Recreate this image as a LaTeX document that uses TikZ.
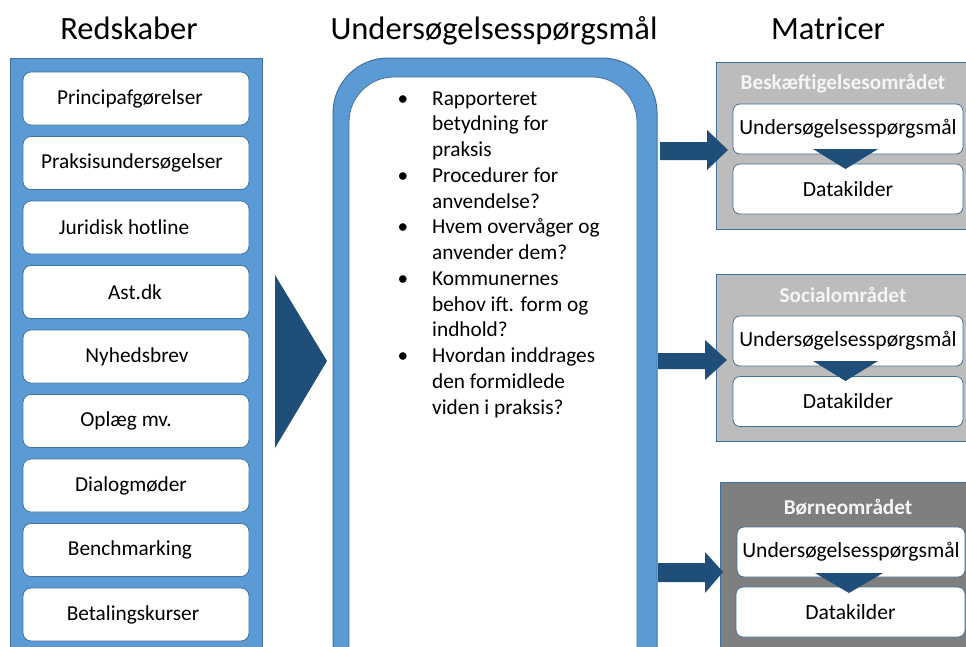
\documentclass[tikz,border=0pt]{standalone}
\usepackage{fontspec}
\setmainfont{Carlito}
\definecolor{bluefill}{HTML}{5B9BD5}
\definecolor{blueline}{HTML}{41719C}
\definecolor{arrowblue}{HTML}{1F4E79}
\definecolor{lightgray}{HTML}{BCBCBC}
\definecolor{darkgray}{HTML}{7F7F7F}
\tikzset{
  heading/.style={anchor=base, font=\fontsize{32.5}{36}\selectfont},
  toolbox/.style={draw=blueline, fill=white, rounded corners=8pt, line width=0.8pt,
    minimum width=226pt, minimum height=53pt, font=\fontsize{21.3}{24}\selectfont},
  bline/.style={anchor=west, inner sep=0pt, text height=15pt, text depth=5pt, font=\fontsize{21.3}{25}\selectfont},
  bullet/.style={inner sep=0pt, text height=15pt, text depth=5pt, font=\fontsize{21.3}{25}\selectfont},
  matbox/.style={draw=blueline, fill=white, rounded corners=7pt, line width=0.8pt,
    minimum width=230pt, minimum height=50pt, inner sep=0pt, font=\fontsize{21.6}{24}\selectfont},
  ptitle/.style={text=white!92!gray, font=\bfseries\fontsize{21.2}{24}\selectfont},
}
\begin{document}
\begin{tikzpicture}[x=1pt, y=-1pt]
\useasboundingbox (0,0) rectangle (966,646);
\fill[white] (0,0) rectangle (966,646);

% headings
\node[heading] (h1) at (129,39) {Redskaber};
\node[heading] (h2) at (494,39) {Undersøgelsesspørgsmål};
\node[heading] (h3) at (828,39) {Matricer};

% left panel
\draw[fill=bluefill, draw=blueline, line width=1pt] (10,58) rectangle (262,700);
\foreach \i/\o/\t in {0/-12/Principafgørelser,1/-8/Praksisundersøgelser,2/-24/Juridisk hotline,3/-2/Ast.dk,4/2/Nyhedsbrev,5/-20/Oplæg mv.,6/-10/Dialogmøder,7/-12/Benchmarking,8/-6/Betalingskurser}{
  \node[toolbox] (t\i) at (136,98.5+64.5*\i) {\hspace*{\o pt}\t};
}

% big triangle
\coordinate (ta) at (275,275);
\coordinate (tb) at (327,361);
\coordinate (tc) at (275,448);
\fill[arrowblue] (ta) -- (tb) -- (tc) -- cycle;

% middle panel
\draw[fill=bluefill, draw=blueline, line width=1pt, rounded corners=55pt] (333,58) rectangle (657,720);
\draw[fill=white, draw=blueline, line width=0.8pt, rounded corners=45pt] (349,77) rectangle (637,720);

% bullet text
\foreach \j/\t in {0/Rapporteret,1/betydning for,2/praksis,3/Procedurer for,4/anvendelse?,5/Hvem overvåger og,6/anvender dem?,7/Kommunernes,8/behov ift. form og,9/indhold?,10/Hvordan inddrages,11/den formidlede,12/viden i praksis?}{
  \node[bline] (l\j) at (432,100+25.75*\j) {\t};
}
\foreach \j in {0,3,5,7,10}{
  \node[bullet] (b\j) at (403,100+25.75*\j) {•};
}

% right panels
\fill[lightgray, draw=blueline, line width=1pt] (716,62) rectangle (980,229);
\node[ptitle] (p1) at (843,84) {Beskæftigelsesområdet};
\node[matbox] (q1) at (848,129) {Undersøgelsesspørgsmål};
\node[matbox] (d1) at (848,189) {Datakilder};
\fill[arrowblue] (813,149) -- (878,149) -- (845.5,169) -- cycle;

\fill[lightgray, draw=blueline, line width=1pt] (716,274) rectangle (980,441);
\node[ptitle] (p2) at (843,295) {Socialområdet};
\node[matbox] (q2) at (848,341) {Undersøgelsesspørgsmål};
\node[matbox] (d2) at (848,401.5) {Datakilder};
\fill[arrowblue] (813,361) -- (878,361) -- (845.5,381) -- cycle;

\fill[darkgray, draw=blueline, line width=1pt] (720,482) rectangle (980,700);
\node[ptitle] (p3) at (848,507) {Børneområdet};
\node[matbox, minimum width=228pt] (q3) at (851,552) {Undersøgelsesspørgsmål};
\node[matbox, minimum width=229pt] (d3) at (850.5,612) {Datakilder};
\fill[arrowblue] (815,573) -- (883,573) -- (849,593) -- cycle;

% arrows to panels
\fill[arrowblue] (660,142) -- (707,142) -- (707,130) -- (728,150) -- (707,170) -- (707,160) -- (660,160) -- cycle;
\fill[arrowblue] (658,353) -- (705,353) -- (705,340) -- (727,360) -- (705,380) -- (705,369) -- (658,369) -- cycle;
\fill[arrowblue] (658,563) -- (705,563) -- (705,552) -- (723,572) -- (705,593) -- (705,582) -- (658,582) -- cycle;
\end{tikzpicture}
\end{document}
